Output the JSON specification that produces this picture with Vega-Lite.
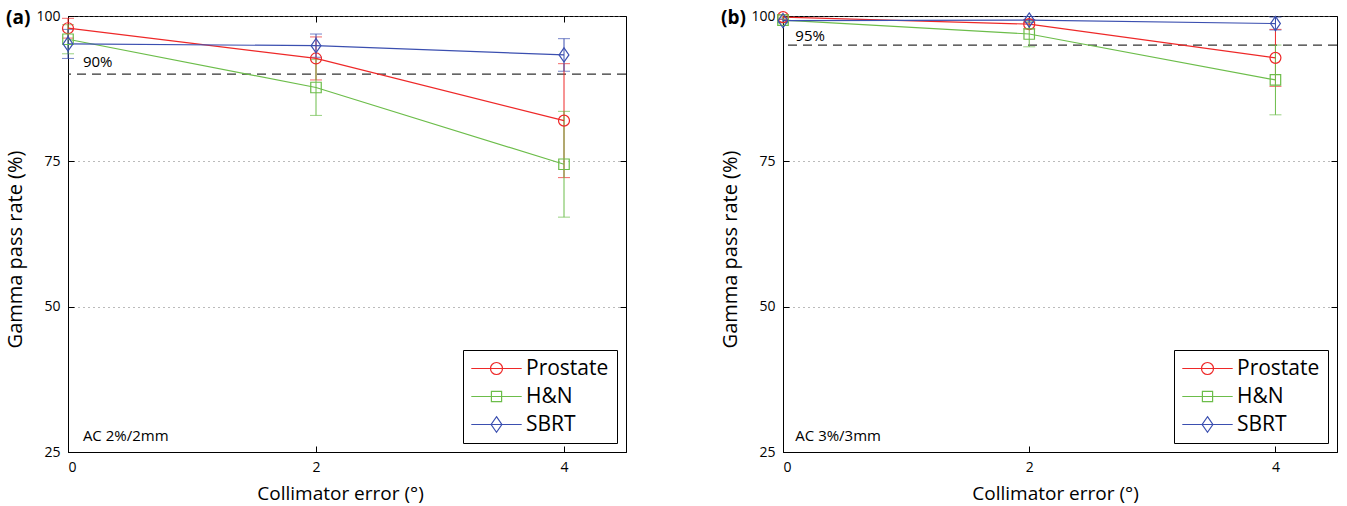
{
  "$schema": "https://vega.github.io/schema/vega-lite/v6.json",
  "padding": {"left": 5, "top": 8, "right": 5, "bottom": 2},
  "spacing": 92,
  "config": {
    "font": "Open Sans",
    "view": {"stroke": "black", "strokeWidth": 1},
    "axis": {
      "domainColor": "black", "tickColor": "black", "labelColor": "black", "titleColor": "black",
      "labelFontSize": 14, "titleFontSize": 19, "titleFontWeight": "normal",
      "tickSize": -6, "labelPadding": 14
    },
    "legend": {"labelFontSize": 21, "labelColor": "black"}
  },
  "resolve": {
    "scale": {"color": "independent"},
    "legend": {"color": "independent"}
  },
  "datasets": {
    "pts": [
      {"panel": "a", "series": "Prostate", "x": 0, "y": 97.9, "lo": 96.2, "hi": 99.6},
      {"panel": "a", "series": "Prostate", "x": 2, "y": 92.7, "lo": 89.0, "hi": 96.4},
      {"panel": "a", "series": "Prostate", "x": 4, "y": 82.0, "lo": 72.2, "hi": 91.8},
      {"panel": "a", "series": "H&N", "x": 0, "y": 96.0, "lo": 93.5, "hi": 98.5},
      {"panel": "a", "series": "H&N", "x": 2, "y": 87.7, "lo": 82.9, "hi": 92.5},
      {"panel": "a", "series": "H&N", "x": 4, "y": 74.5, "lo": 65.4, "hi": 83.6},
      {"panel": "a", "series": "SBRT", "x": 0, "y": 95.2, "lo": 92.7, "hi": 97.7},
      {"panel": "a", "series": "SBRT", "x": 2, "y": 94.9, "lo": 92.9, "hi": 96.9},
      {"panel": "a", "series": "SBRT", "x": 4, "y": 93.3, "lo": 90.5, "hi": 96.1},
      {"panel": "b", "series": "Prostate", "x": 0, "y": 99.8, "lo": 99.4, "hi": 100.2},
      {"panel": "b", "series": "Prostate", "x": 2, "y": 98.6, "lo": 97.8, "hi": 99.4},
      {"panel": "b", "series": "Prostate", "x": 4, "y": 92.8, "lo": 87.9, "hi": 97.7},
      {"panel": "b", "series": "H&N", "x": 0, "y": 99.3, "lo": 98.8, "hi": 99.8},
      {"panel": "b", "series": "H&N", "x": 2, "y": 96.9, "lo": 94.7, "hi": 99.1},
      {"panel": "b", "series": "H&N", "x": 4, "y": 89.0, "lo": 83.0, "hi": 95.0},
      {"panel": "b", "series": "SBRT", "x": 0, "y": 99.2, "lo": 98.9, "hi": 99.5},
      {"panel": "b", "series": "SBRT", "x": 2, "y": 99.3, "lo": 98.9, "hi": 99.9},
      {"panel": "b", "series": "SBRT", "x": 4, "y": 98.7, "lo": 97.6, "hi": 99.8}
    ],
    "refs": [
      {"panel": "a", "y": 90},
      {"panel": "b", "y": 95}
    ],
    "notes": [
      {"panel": "a", "x": 0.12, "y": 92.1, "text": "90%"},
      {"panel": "a", "x": 0.12, "y": 27.8, "text": "AC 2%/2mm"},
      {"panel": "b", "x": 0.1, "y": 96.6, "text": "95%"},
      {"panel": "b", "x": 0.1, "y": 27.8, "text": "AC 3%/3mm"}
    ]
  },
  "hconcat": [
    {
      "width": 558, "height": 436,
      "title": {"text": "(a)", "anchor": "start", "frame": "bounds", "fontSize": 19, "fontWeight": "bold", "offset": 0, "baseline": "middle", "dy": 28, "color": "black"},
      "layer": [
        {
          "data": {"name": "refs"},
          "transform": [{"filter": "datum.panel == 'a'"}],
          "mark": {"type": "rule", "strokeDash": [9, 6], "color": "#333", "strokeWidth": 1.3},
          "encoding": {"y": {"field": "y", "type": "quantitative", "scale": {"domain": [25, 100], "nice": false, "zero": false}, "axis": null}}
        },
        {
          "data": {"name": "pts"},
          "transform": [{"filter": "datum.panel == 'a'"}],
          "mark": {"type": "errorbar", "ticks": {"size": 12}, "thickness": 1},
          "encoding": {
            "x": {"field": "x", "type": "quantitative", "scale": {"domain": [0, 4.5], "nice": false}, "axis": null},
            "y": {"field": "lo", "type": "quantitative", "scale": {"domain": [25, 100], "nice": false, "zero": false}, "axis": null},
            "y2": {"field": "hi"},
            "color": {"field": "series", "type": "nominal", "title": null, "scale": {"domain": ["Prostate", "H&N", "SBRT"], "range": ["#ee2828", "#6cbd4a", "#3b4fb0"]},
              "legend": {"orient": "bottom-right", "offset": 9, "strokeColor": "black", "fillColor": "white", "padding": 8, "rowPadding": 6, "symbolSize": 144, "symbolOffset": 15, "labelOffset": 19,
                "encode": {"symbols": {"update": {
                  "shape": {"signal": "datum.value == 'Prostate' ? 'M-4.2,0H4.2M-1,0A1,1,0,1,1,1,0A1,1,0,1,1,-1,0' : datum.value == 'H&N' ? 'M-4.2,0H4.2M-0.85,-0.85H0.85V0.85H-0.85Z' : 'M-4.2,0H4.2M0,-1.3L0.9,0L0,1.3L-0.9,0Z'"},
                  "stroke": {"signal": "datum.value == 'Prostate' ? '#ee2828' : datum.value == 'H&N' ? '#6cbd4a' : '#3b4fb0'"},
                  "fill": {"value": "transparent"},
                  "fillOpacity": {"value": 0},
                  "opacity": {"value": 1},
                  "strokeOpacity": {"value": 1},
                  "strokeWidth": {"value": 1.2}
                }}}}}
          }
        },
        {
          "data": {"name": "pts"},
          "transform": [{"filter": "datum.panel == 'a'"}],
          "mark": {"type": "line", "strokeWidth": 1.2},
          "encoding": {
            "x": {"field": "x", "type": "quantitative", "scale": {"domain": [0, 4.5], "nice": false}, "title": "Collimator error (°)", "axis": {"orient": "bottom", "values": [0, 2, 4], "grid": false, "titlePadding": 10, "titleX": 272}},
            "y": {"field": "y", "type": "quantitative", "scale": {"domain": [25, 100], "nice": false, "zero": false}, "title": "Gamma pass rate (%)", "axis": {"orient": "left", "values": [25, 50, 75, 100], "grid": true, "gridDash": [1, 4], "gridColor": "#777", "titlePadding": 10, "titleFontSize": 20, "titleY": 233}},
            "color": {"field": "series", "type": "nominal", "title": null}
          }
        },
        {
          "data": {"name": "pts"},
          "transform": [{"filter": "datum.panel == 'a' && datum.series == 'Prostate'"}],
          "mark": {"type": "point", "shape": "circle", "filled": false, "strokeWidth": 1.2, "size": 120, "opacity": 1, "color": "#ee2828"},
          "encoding": {"x": {"field": "x", "type": "quantitative", "axis": null}, "y": {"field": "y", "type": "quantitative", "axis": null}}
        },
        {
          "data": {"name": "pts"},
          "transform": [{"filter": "datum.panel == 'a' && datum.series == 'H&N'"}],
          "mark": {"type": "point", "shape": "square", "filled": false, "strokeWidth": 1.2, "size": 110, "opacity": 1, "color": "#6cbd4a"},
          "encoding": {"x": {"field": "x", "type": "quantitative", "axis": null}, "y": {"field": "y", "type": "quantitative", "axis": null}}
        },
        {
          "data": {"name": "pts"},
          "transform": [{"filter": "datum.panel == 'a' && datum.series == 'SBRT'"}],
          "mark": {"type": "point", "shape": "M0,-1.3L0.9,0L0,1.3L-0.9,0Z", "filled": false, "strokeWidth": 1.2, "size": 120, "opacity": 1, "color": "#3b4fb0"},
          "encoding": {"x": {"field": "x", "type": "quantitative", "axis": null}, "y": {"field": "y", "type": "quantitative", "axis": null}}
        },
        {
          "data": {"name": "notes"},
          "transform": [{"filter": "datum.panel == 'a'"}],
          "mark": {"type": "text", "align": "left", "baseline": "middle", "fontSize": 15, "color": "black"},
          "encoding": {
            "x": {"field": "x", "type": "quantitative", "axis": {"orient": "top", "values": [0, 2, 4], "labels": false, "title": null, "grid": false, "domain": false}},
            "y": {"field": "y", "type": "quantitative", "axis": {"orient": "right", "values": [25, 50, 75, 100], "labels": false, "title": null, "grid": false, "domain": false}},
            "text": {"field": "text"}
          }
        }
      ],
      "resolve": {"axis": {"x": "independent", "y": "independent"}}
    },
    {
      "width": 554, "height": 436,
      "title": {"text": "(b)", "anchor": "start", "frame": "bounds", "fontSize": 19, "fontWeight": "bold", "offset": 0, "baseline": "middle", "dy": 28, "color": "black"},
      "layer": [
        {
          "data": {"name": "refs"},
          "transform": [{"filter": "datum.panel == 'b'"}],
          "mark": {"type": "rule", "strokeDash": [9, 6], "color": "#333", "strokeWidth": 1.3},
          "encoding": {"y": {"field": "y", "type": "quantitative", "scale": {"domain": [25, 100], "nice": false, "zero": false}, "axis": null}}
        },
        {
          "data": {"name": "pts"},
          "transform": [{"filter": "datum.panel == 'b'"}],
          "mark": {"type": "errorbar", "ticks": {"size": 12}, "thickness": 1},
          "encoding": {
            "x": {"field": "x", "type": "quantitative", "scale": {"domain": [0, 4.5], "nice": false}, "axis": null},
            "y": {"field": "lo", "type": "quantitative", "scale": {"domain": [25, 100], "nice": false, "zero": false}, "axis": null},
            "y2": {"field": "hi"},
            "color": {"field": "series", "type": "nominal", "title": null, "scale": {"domain": ["Prostate", "H&N", "SBRT"], "range": ["#ee2828", "#6cbd4a", "#3b4fb0"]},
              "legend": {"orient": "bottom-right", "offset": 9, "strokeColor": "black", "fillColor": "white", "padding": 8, "rowPadding": 6, "symbolSize": 144, "symbolOffset": 15, "labelOffset": 19,
                "encode": {"symbols": {"update": {
                  "shape": {"signal": "datum.value == 'Prostate' ? 'M-4.2,0H4.2M-1,0A1,1,0,1,1,1,0A1,1,0,1,1,-1,0' : datum.value == 'H&N' ? 'M-4.2,0H4.2M-0.85,-0.85H0.85V0.85H-0.85Z' : 'M-4.2,0H4.2M0,-1.3L0.9,0L0,1.3L-0.9,0Z'"},
                  "stroke": {"signal": "datum.value == 'Prostate' ? '#ee2828' : datum.value == 'H&N' ? '#6cbd4a' : '#3b4fb0'"},
                  "fill": {"value": "transparent"},
                  "fillOpacity": {"value": 0},
                  "opacity": {"value": 1},
                  "strokeOpacity": {"value": 1},
                  "strokeWidth": {"value": 1.2}
                }}}}}
          }
        },
        {
          "data": {"name": "pts"},
          "transform": [{"filter": "datum.panel == 'b'"}],
          "mark": {"type": "line", "strokeWidth": 1.2},
          "encoding": {
            "x": {"field": "x", "type": "quantitative", "scale": {"domain": [0, 4.5], "nice": false}, "title": "Collimator error (°)", "axis": {"orient": "bottom", "values": [0, 2, 4], "grid": false, "titlePadding": 10, "titleX": 272}},
            "y": {"field": "y", "type": "quantitative", "scale": {"domain": [25, 100], "nice": false, "zero": false}, "title": "Gamma pass rate (%)", "axis": {"orient": "left", "values": [25, 50, 75, 100], "grid": true, "gridDash": [1, 4], "gridColor": "#777", "titlePadding": 10, "titleFontSize": 20, "titleY": 233}},
            "color": {"field": "series", "type": "nominal", "title": null}
          }
        },
        {
          "data": {"name": "pts"},
          "transform": [{"filter": "datum.panel == 'b' && datum.series == 'Prostate'"}],
          "mark": {"type": "point", "shape": "circle", "filled": false, "strokeWidth": 1.2, "size": 120, "opacity": 1, "color": "#ee2828"},
          "encoding": {"x": {"field": "x", "type": "quantitative", "axis": null}, "y": {"field": "y", "type": "quantitative", "axis": null}}
        },
        {
          "data": {"name": "pts"},
          "transform": [{"filter": "datum.panel == 'b' && datum.series == 'H&N'"}],
          "mark": {"type": "point", "shape": "square", "filled": false, "strokeWidth": 1.2, "size": 110, "opacity": 1, "color": "#6cbd4a"},
          "encoding": {"x": {"field": "x", "type": "quantitative", "axis": null}, "y": {"field": "y", "type": "quantitative", "axis": null}}
        },
        {
          "data": {"name": "pts"},
          "transform": [{"filter": "datum.panel == 'b' && datum.series == 'SBRT'"}],
          "mark": {"type": "point", "shape": "M0,-1.3L0.9,0L0,1.3L-0.9,0Z", "filled": false, "strokeWidth": 1.2, "size": 120, "opacity": 1, "color": "#3b4fb0"},
          "encoding": {"x": {"field": "x", "type": "quantitative", "axis": null}, "y": {"field": "y", "type": "quantitative", "axis": null}}
        },
        {
          "data": {"name": "notes"},
          "transform": [{"filter": "datum.panel == 'b'"}],
          "mark": {"type": "text", "align": "left", "baseline": "middle", "fontSize": 15, "color": "black"},
          "encoding": {
            "x": {"field": "x", "type": "quantitative", "axis": {"orient": "top", "values": [0, 2, 4], "labels": false, "title": null, "grid": false, "domain": false}},
            "y": {"field": "y", "type": "quantitative", "axis": {"orient": "right", "values": [25, 50, 75, 100], "labels": false, "title": null, "grid": false, "domain": false}},
            "text": {"field": "text"}
          }
        }
      ],
      "resolve": {"axis": {"x": "independent", "y": "independent"}}
    }
  ]
}
